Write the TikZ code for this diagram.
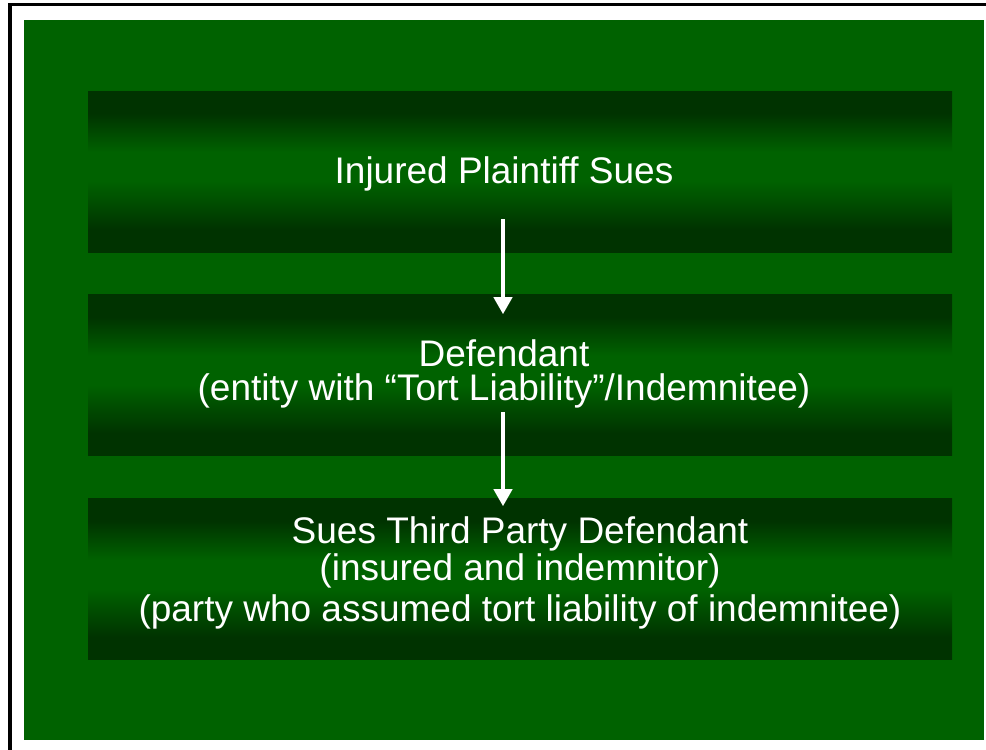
\documentclass[tikz,border=0pt]{standalone}
\usepackage{fontspec}
\setmainfont{Liberation Sans}
\usetikzlibrary{arrows.meta,calc}
\definecolor{bggreen}{RGB}{0,98,0}
\definecolor{dkgreen}{RGB}{0,51,0}
\pgfdeclareverticalshading{boxshade}{100bp}{color(0bp)=(dkgreen); color(32bp)=(dkgreen); color(47bp)=(bggreen); color(56bp)=(bggreen); color(68bp)=(dkgreen); color(100bp)=(dkgreen)}
\begin{document}
\begin{tikzpicture}[x=0.75pt,y=-0.75pt,
  box/.style={shading=boxshade, draw=none, minimum width=648pt, minimum height=120.75pt, inner sep=0pt},
  txt/.style={text=white, font=\fontsize{27.75}{33}\selectfont, inner sep=0pt, anchor=base},
  arr/.style={draw=white, line width=3pt, -{Triangle[width=13.5pt,length=12.75pt]}}]
\useasboundingbox (0,0) rectangle (986,750);
\fill[white] (0,0) rectangle (986,750);
\fill[bggreen] (24,20) rectangle (984,740);
\draw[black, line width=3pt] (10,750) -- (10,3);
\draw[black, line width=2.25pt] (8.5,4.5) -- (986,4.5);
% boxes
\node[box] (b1) at (520,171.5) {};
\node[box] (b2) at (520,375) {};
\node[box] (b3) at (520,579) {};
% texts
\node[txt] (t1) at (504,183) {Injured Plaintiff Sues};
\node[txt] (t2a) at (504,366) {Defendant};
\node[txt] (t2b) at (504,400) {(entity with “Tort Liability”/Indemnitee)};
\node[txt] (t3a) at (520,543) {Sues Third Party Defendant};
\node[txt] (t3b) at (520,580) {(insured and indemnitor)};
\node[txt] (t3c) at (520,621) {(party who assumed tort liability of indemnitee)};
% arrows
\draw[arr] ($(b1.south)+(-17,-33)$) -- ($(b2.north)+(-17,20)$);
\draw[arr] ($(b2.south)+(-17,-44)$) -- ($(b3.north)+(-17,8)$);
\end{tikzpicture}
\end{document}
